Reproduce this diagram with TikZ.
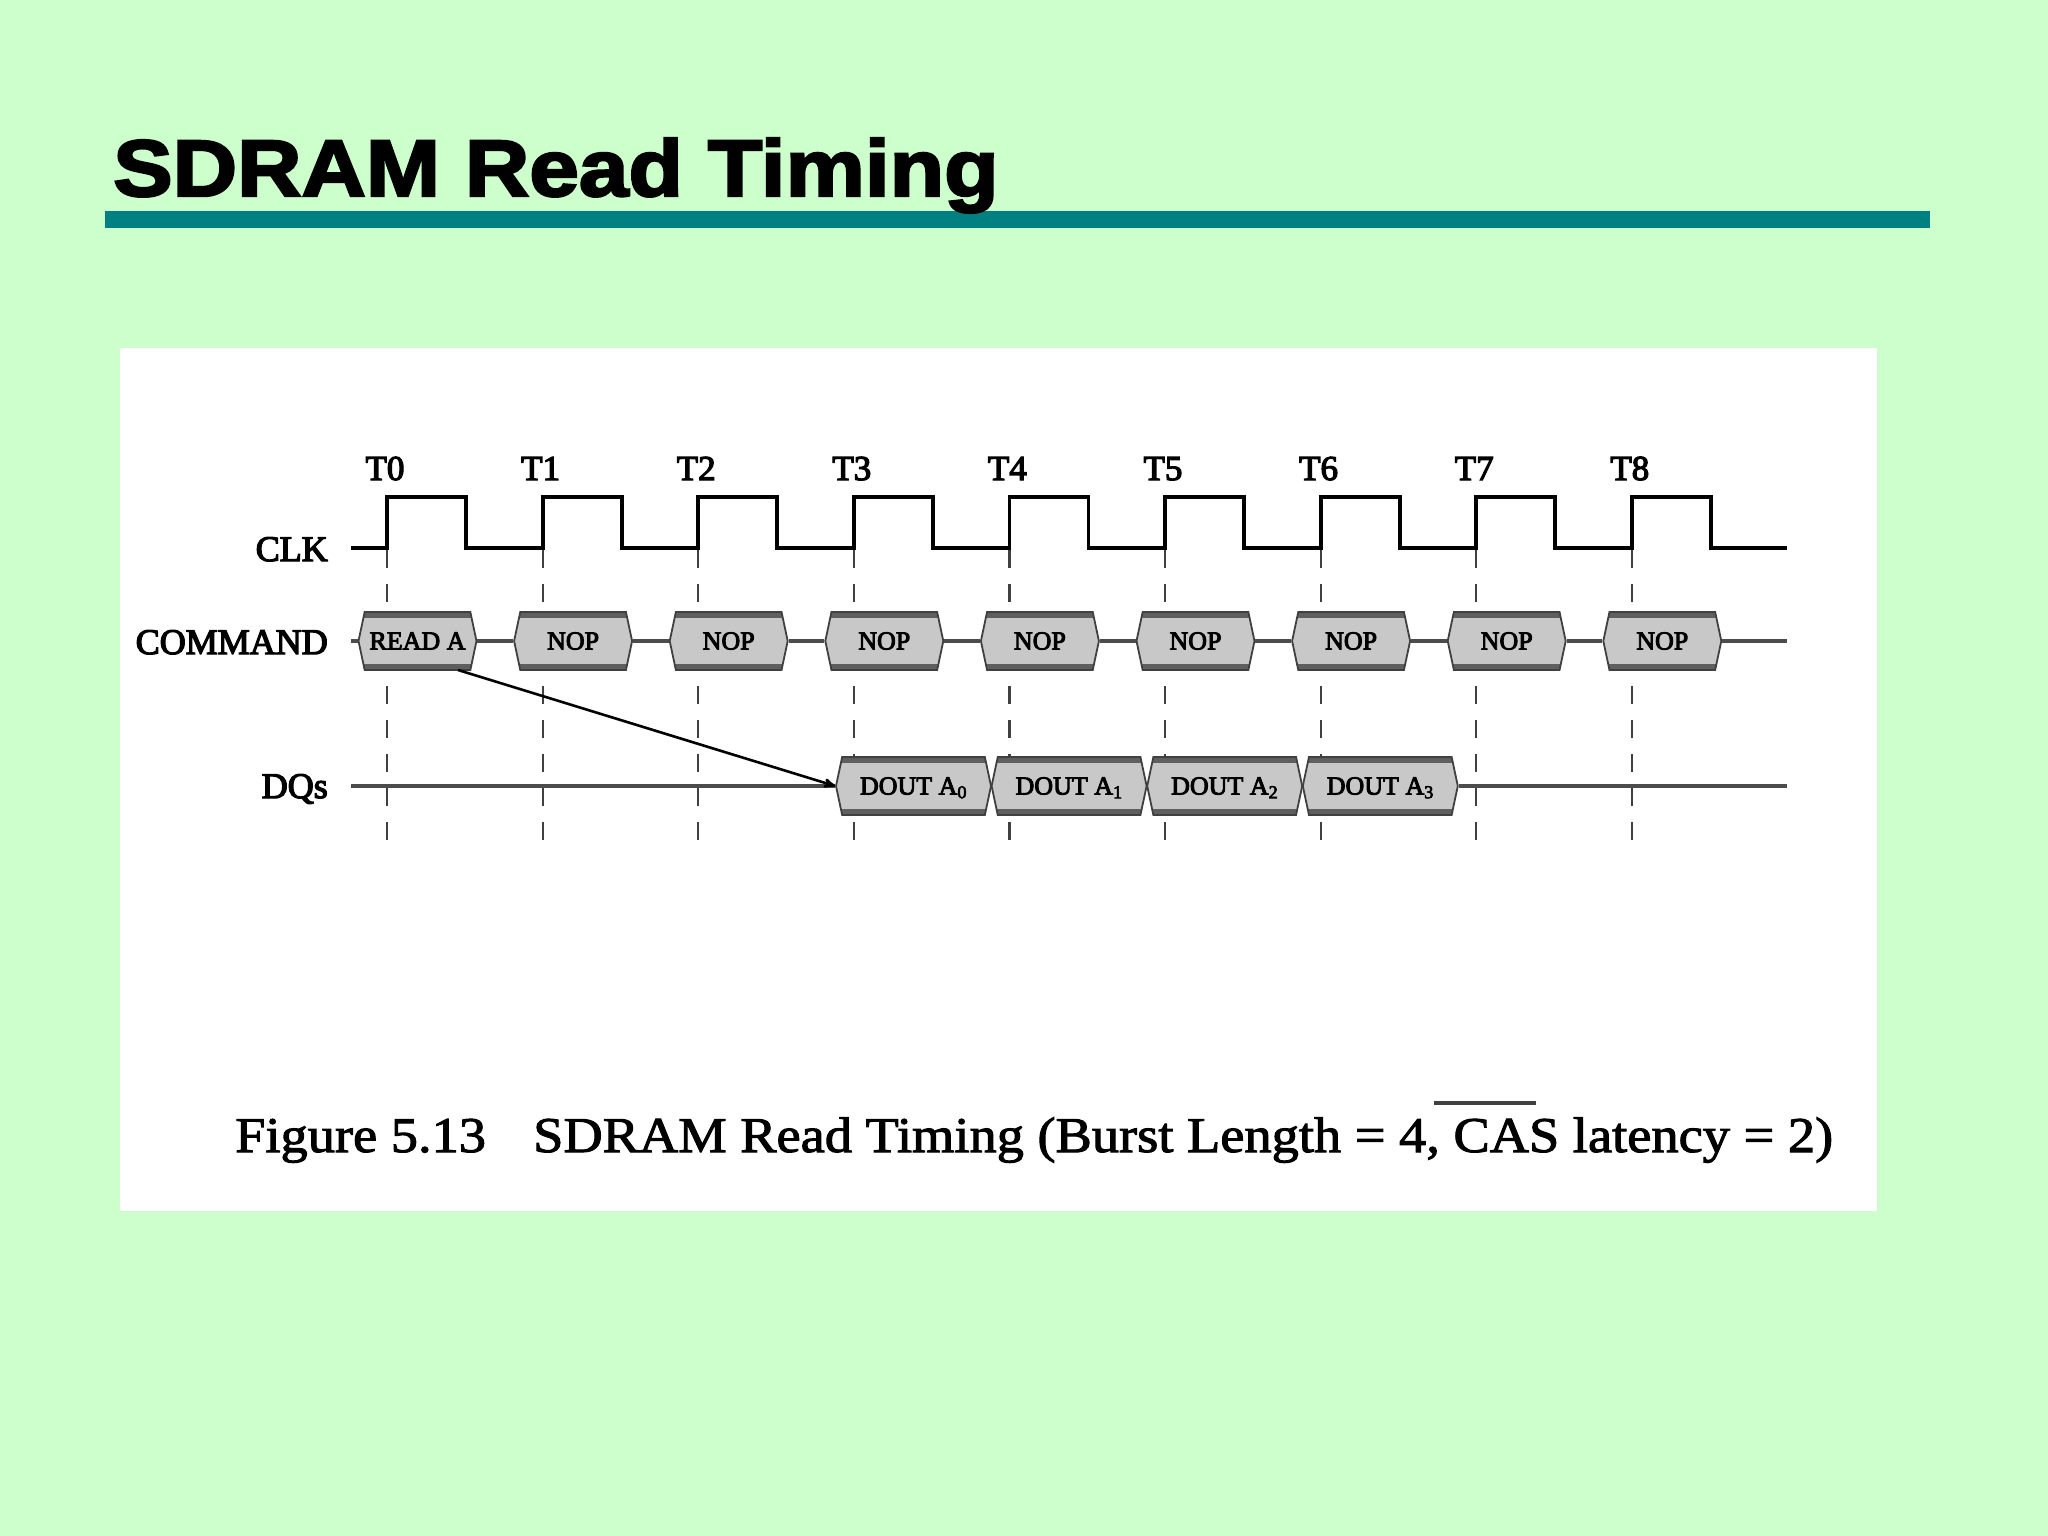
\documentclass[tikz,border=0pt]{standalone}
\usepackage{fontspec}
\usepackage{tikz}
\usetikzlibrary{arrows,positioning,shapes.symbols}
\newfontfamily\titlefont[FakeStretch=1.115,FakeBold=3,UprightFont=* Bold]{Liberation Sans}
\newfontfamily\labelfont[FakeBold=3.5]{Liberation Serif}
\newfontfamily\capfont[FakeStretch=1.088,FakeBold=2]{Liberation Serif}
\definecolor{slidebg}{RGB}{204,255,204}
\definecolor{barteal}{RGB}{0,128,128}
\definecolor{boxgray}{RGB}{200,200,200}
\definecolor{bandgray}{RGB}{95,95,95}
\tikzset{
	sig_box/.style = {signal, signal from=nowhere, signal to=west and east, signal pointer angle=156,
		draw=black!75, line width=1.8pt, fill=boxgray, inner sep=0pt, minimum height=58pt,
		text height=17pt, text depth=0pt, font=\labelfont\fontsize{26}{28}\selectfont,
		path picture={\fill[bandgray] (path picture bounding box.north west) rectangle
			([yshift=-6pt]path picture bounding box.north east);
			\fill[bandgray] (path picture bounding box.south west) rectangle
			([yshift=6pt]path picture bounding box.south east);}},
	sig_cmd/.style = {sig_box, minimum width=118pt},% one clock wide
	sig_dout/.style = {sig_box, minimum width=155pt},
	sig_name/.style = {anchor=base east, inner sep=0pt, font=\labelfont\fontsize{36}{38}\selectfont},
	bus_line/.style = {line width=3.4pt, black!70},
	tick_line/.style = {line width=2.2pt, black!75, dash pattern=on 18pt off 16pt}
}

\begin{document}
\begin{tikzpicture}[x=1pt,y=-1pt,>=stealth']
\useasboundingbox (0,0) rectangle (2048,1536);
\fill[slidebg] (0,0) rectangle (2048,1536);
\fill[barteal] (105,211) rectangle (1930,228);
\node[anchor=base west, inner sep=0pt, font=\titlefont\fontsize{80}{84}\selectfont] (title) at (113,196) {SDRAM Read Timing};
\fill[white] (120,348) rectangle (1877,1211);

% clock edges, dashes run up from the foot
\foreach \i in {0,...,8} {
	\coordinate (edge\i) at (387+155.6*\i,550);
	\coordinate (foot\i) at (387+155.6*\i,840);
	\draw[tick_line] (foot\i) -- (edge\i);
	\node[anchor=base, inner sep=0pt, font=\labelfont\fontsize{35}{37}\selectfont] (clk\i) at (385+155.6*\i,480) {T\i};
}
\draw[line width=3.8pt, miter limit=2] (351,548) \foreach \i in {0,...,8} { -- (387+155.6*\i,548) -- ++(0,-51) -- ++(79,0) -- ++(0,51) } -- (1787,548);

\node[sig_name] (clkname) at (328,561) {CLK};
\node[sig_name] (cmdname) at (328,654) {COMMAND};
\node[sig_name] (dqname) at (328,798) {DQs};

% command row
\coordinate (cmdstart) at (351,641);
\coordinate (cmdend) at (1787,641);
\node[sig_cmd] (cmd0) at (417.5,641) {READ A};
\foreach \i/\j in {1/0,2/1,3/2,4/3,5/4,6/5,7/6,8/7} {
	\node[sig_cmd] (cmd\i) at (417.5+155.6*\i,641) {NOP};
	\draw[bus_line] (cmd\j.east) -- (cmd\i.west);
}
\draw[bus_line] (cmdstart) -- (cmd0.west);
\draw[bus_line] (cmd8.east) -- (cmdend);

% data row
\coordinate (dqstart) at (351,786);
\coordinate (dqend) at (1787,786);
\foreach \i in {0,...,3} {
	\node[sig_dout] (dout\i) at (913.5+155.6*\i,786) {DOUT A\textsubscript{\i}};
}
\draw[bus_line] (dqstart) -- (dout0.west);
\draw[bus_line] (dout3.east) -- (dqend);

\coordinate (readfoot) at (458,670);
\draw[->, line width=2.6pt] (readfoot) -- (dout0.west);

% caption
\node[anchor=base west, inner sep=0pt, font=\capfont\fontsize{50}{54}\selectfont] (capnum) at (235,1152) {Figure 5.13};
\node[anchor=base west, inner sep=0pt, font=\capfont\fontsize{50}{54}\selectfont] (captext) at (533,1152) {SDRAM Read Timing (Burst Length = 4, CAS latency = 2)};
\draw[line width=3.4pt, black!75] (1434,1103) -- (1536,1103);
\end{tikzpicture}
\end{document}
